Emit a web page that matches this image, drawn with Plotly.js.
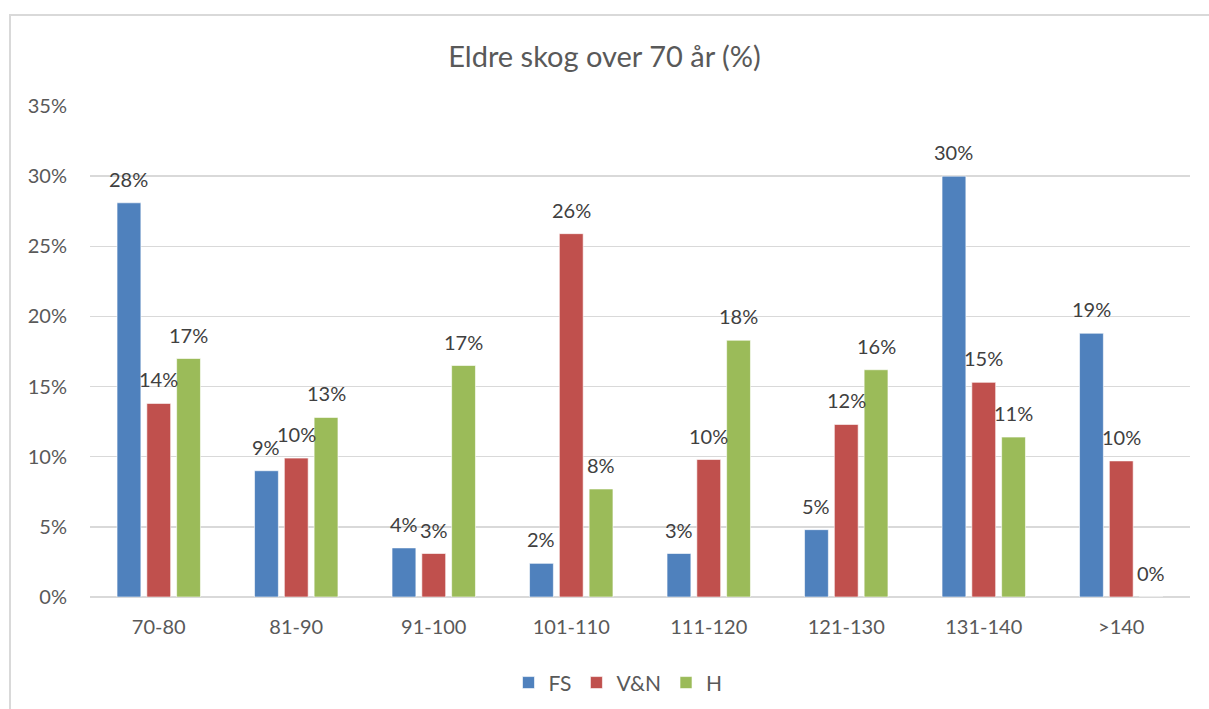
<!DOCTYPE html>
<html>
<head>
<meta charset="utf-8">
<script src="https://cdn.plot.ly/plotly-3.0.1.min.js"></script>
<style>
  html, body { margin: 0; padding: 0; background: #fff; }
  #wrap { position: relative; width: 1209px; height: 709px; overflow: hidden; }
  #chart { width: 1209px; height: 709px; }
  #frame { position: absolute; left: 9px; top: 14px; width: 1400px; height: 900px;
           border: 2px solid #d9d9d9; pointer-events: none; box-sizing: border-box; }
</style>
</head>
<body>
<div id="wrap">
  <div id="chart"></div>
  <div id="frame"></div>
</div>
<script>
const categories = ["70-80", "81-90", "91-100", "101-110", "111-120", "121-130", "131-140", ">140"];
const fsValues  = [28.1, 9.0, 3.5, 2.4, 3.1, 4.8, 30.0, 18.8];
const vnValues  = [13.8, 9.9, 3.1, 25.9, 9.8, 12.3, 15.3, 9.7];
const hValues   = [17.0, 12.8, 16.5, 7.7, 18.3, 16.2, 11.4, 0.0];
const seriesNames = ["FS", "V&N", "H"];
const seriesColors = ["#4F81BD", "#C0504D", "#9BBB59"];
const yTickVals = [0, 5, 10, 15, 20, 25, 30, 35];

const font = "Lato, 'Open Sans', 'DejaVu Sans', sans-serif";
const allValues = [fsValues, vnValues, hValues];

const W = 1209, H = 709;
const margin = { l: 90, r: 19, t: 106, b: 112, autoexpand: false };
const bargap = 0.35;
const plotW = W - margin.l - margin.r;
const slot = plotW / categories.length * (1 - bargap) / allValues.length;

const traces = allValues.map((vals, i) => ({
  type: "bar",
  name: seriesNames[i],
  x: categories,
  y: vals,
  marker: { color: seriesColors[i], line: { color: "rgba(255,255,255,0.6)", width: 1 } },
  hoverinfo: "x+y"
}));

const annotations = [];
allValues.forEach((vals, i) => {
  vals.forEach((v, j) => {
    annotations.push({
      x: categories[j], y: v, xref: "x", yref: "y",
      text: Math.round(v) + "%",
      showarrow: false,
      xanchor: "center", yanchor: "bottom",
      xshift: (i - (allValues.length - 1) / 2) * slot,
      yshift: 10,
      font: { family: font, size: 20, color: "#404040" }
    });
  });
});

const layout = {
  width: W,
  height: H,
  margin: margin,
  paper_bgcolor: "#ffffff",
  plot_bgcolor: "#ffffff",
  title: {
    text: "Eldre skog over 70 år (%)",
    font: { family: font, size: 29, color: "#595959" },
    x: 0.5, xanchor: "center",
    y: 1 - 57 / H, yref: "container", yanchor: "middle"
  },
  barmode: "group",
  bargap: bargap,
  bargroupgap: 0.2,
  showlegend: true,
  legend: {
    orientation: "h",
    x: 0.48, xanchor: "center",
    y: -0.175, yanchor: "middle",
    font: { family: font, size: 21, color: "#595959" },
    traceorder: "normal"
  },
  annotations: annotations,
  xaxis: {
    type: "category",
    automargin: false,
    showgrid: false,
    showline: false,
    zeroline: false,
    ticks: "outside",
    ticklen: 12,
    tickcolor: "rgba(0,0,0,0)",
    tickfont: { family: font, size: 20, color: "#595959" }
  },
  yaxis: {
    range: [0, 35],
    automargin: false,
    tickvals: yTickVals,
    ticktext: yTickVals.map(v => v + "%"),
    showgrid: true,
    gridcolor: "#d9d9d9",
    gridwidth: 1.5,
    zeroline: true,
    zerolinecolor: "#d9d9d9",
    zerolinewidth: 1.5,
    showline: false,
    ticks: "outside",
    ticklen: 18,
    tickcolor: "rgba(0,0,0,0)",
    tickfont: { family: font, size: 20, color: "#595959" }
  }
};

Plotly.newPlot("chart", traces, layout, { displayModeBar: false, staticPlot: true });
</script>
</body>
</html>
